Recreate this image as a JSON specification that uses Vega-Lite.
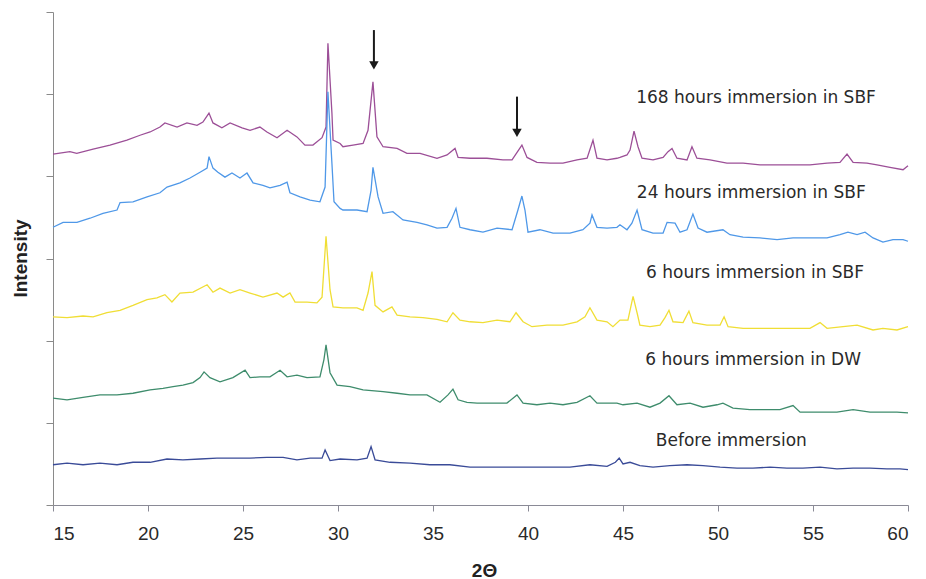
{
"$schema":"https://vega.github.io/schema/vega-lite/v6.json",
"width":855,"height":493,
"autosize":{"type":"none"},
"padding":{"left":53,"top":12,"right":18,"bottom":74},
"background":"white",
"config":{"view":{"stroke":null}},
"datasets":{
"labels":[
{"label":"168 hours immersion in SBF","x":52.0,"y":495},
{"label":"24 hours immersion in SBF","x":51.75,"y":380},
{"label":"6 hours immersion in SBF","x":51.95,"y":282},
{"label":"6 hours immersion in DW","x":51.85,"y":177},
{"label":"Before immersion","x":50.7,"y":78}
],
"arrows":[
{"x":31.89,"top":578,"bottom":537,"head":535},
{"x":39.42,"top":497,"bottom":455,"head":453}
],
"xrd":[
{"series":"168h SBF","x":15,"y":427},{"series":"168h SBF","x":15.89,"y":430},{"series":"168h SBF","x":16.25,"y":428},{"series":"168h SBF","x":17.11,"y":433},{"series":"168h SBF","x":18,"y":438},{"series":"168h SBF","x":18.89,"y":444},{"series":"168h SBF","x":19.58,"y":450},{"series":"168h SBF","x":20.11,"y":454},{"series":"168h SBF","x":20.63,"y":460},{"series":"168h SBF","x":20.89,"y":465},{"series":"168h SBF","x":21.53,"y":460},{"series":"168h SBF","x":22.05,"y":465},{"series":"168h SBF","x":22.58,"y":462},{"series":"168h SBF","x":22.89,"y":466},{"series":"168h SBF","x":23.21,"y":477},{"series":"168h SBF","x":23.42,"y":465},{"series":"168h SBF","x":23.89,"y":459},{"series":"168h SBF","x":24.32,"y":465},{"series":"168h SBF","x":24.95,"y":459},{"series":"168h SBF","x":25.37,"y":456},{"series":"168h SBF","x":25.89,"y":460},{"series":"168h SBF","x":26.26,"y":454},{"series":"168h SBF","x":26.79,"y":447},{"series":"168h SBF","x":27.32,"y":456},{"series":"168h SBF","x":27.84,"y":448},{"series":"168h SBF","x":28.26,"y":438},{"series":"168h SBF","x":28.68,"y":438},{"series":"168h SBF","x":29.16,"y":447},{"series":"168h SBF","x":29.37,"y":460},{"series":"168h SBF","x":29.47,"y":562},{"series":"168h SBF","x":29.68,"y":477},{"series":"168h SBF","x":29.74,"y":444},{"series":"168h SBF","x":30.11,"y":440},{"series":"168h SBF","x":30.26,"y":436},{"series":"168h SBF","x":30.79,"y":438},{"series":"168h SBF","x":31.32,"y":440},{"series":"168h SBF","x":31.58,"y":456},{"series":"168h SBF","x":31.84,"y":515},{"series":"168h SBF","x":32.05,"y":448},{"series":"168h SBF","x":32.37,"y":436},{"series":"168h SBF","x":33.11,"y":434},{"series":"168h SBF","x":33.63,"y":428},{"series":"168h SBF","x":34.32,"y":428},{"series":"168h SBF","x":35.21,"y":422},{"series":"168h SBF","x":35.74,"y":426},{"series":"168h SBF","x":36.16,"y":434},{"series":"168h SBF","x":36.32,"y":423},{"series":"168h SBF","x":36.95,"y":422},{"series":"168h SBF","x":37.84,"y":422},{"series":"168h SBF","x":38.68,"y":420},{"series":"168h SBF","x":39.16,"y":420},{"series":"168h SBF","x":39.68,"y":438},{"series":"168h SBF","x":39.95,"y":423},{"series":"168h SBF","x":40.47,"y":417},{"series":"168h SBF","x":41.16,"y":416},{"series":"168h SBF","x":41.84,"y":416},{"series":"168h SBF","x":42.58,"y":420},{"series":"168h SBF","x":43.11,"y":422},{"series":"168h SBF","x":43.42,"y":444},{"series":"168h SBF","x":43.63,"y":422},{"series":"168h SBF","x":44.16,"y":420},{"series":"168h SBF","x":44.68,"y":422},{"series":"168h SBF","x":44.84,"y":423},{"series":"168h SBF","x":45.21,"y":426},{"series":"168h SBF","x":45.37,"y":432},{"series":"168h SBF","x":45.58,"y":455},{"series":"168h SBF","x":45.79,"y":436},{"series":"168h SBF","x":46,"y":422},{"series":"168h SBF","x":46.58,"y":420},{"series":"168h SBF","x":47.11,"y":423},{"series":"168h SBF","x":47.37,"y":430},{"series":"168h SBF","x":47.58,"y":434},{"series":"168h SBF","x":47.84,"y":422},{"series":"168h SBF","x":48.37,"y":420},{"series":"168h SBF","x":48.63,"y":436},{"series":"168h SBF","x":48.89,"y":422},{"series":"168h SBF","x":49.58,"y":420},{"series":"168h SBF","x":50.47,"y":416},{"series":"168h SBF","x":51.32,"y":416},{"series":"168h SBF","x":52.21,"y":414},{"series":"168h SBF","x":53.11,"y":414},{"series":"168h SBF","x":53.95,"y":414},{"series":"168h SBF","x":54.84,"y":414},{"series":"168h SBF","x":55.74,"y":416},{"series":"168h SBF","x":56.42,"y":417},{"series":"168h SBF","x":56.79,"y":427},{"series":"168h SBF","x":57.11,"y":417},{"series":"168h SBF","x":57.84,"y":416},{"series":"168h SBF","x":58.37,"y":414},{"series":"168h SBF","x":59.05,"y":411},{"series":"168h SBF","x":59.74,"y":408},{"series":"168h SBF","x":60,"y":413},
{"series":"24h SBF","x":15,"y":338},{"series":"24h SBF","x":15.53,"y":344},{"series":"24h SBF","x":16.26,"y":344},{"series":"24h SBF","x":16.95,"y":349},{"series":"24h SBF","x":17.63,"y":355},{"series":"24h SBF","x":18.37,"y":359},{"series":"24h SBF","x":18.53,"y":368},{"series":"24h SBF","x":19.21,"y":369},{"series":"24h SBF","x":19.95,"y":375},{"series":"24h SBF","x":20.63,"y":380},{"series":"24h SBF","x":21,"y":387},{"series":"24h SBF","x":21.68,"y":392},{"series":"24h SBF","x":22.21,"y":398},{"series":"24h SBF","x":22.74,"y":405},{"series":"24h SBF","x":23.11,"y":410},{"series":"24h SBF","x":23.21,"y":424},{"series":"24h SBF","x":23.42,"y":410},{"series":"24h SBF","x":23.68,"y":405},{"series":"24h SBF","x":24.05,"y":399},{"series":"24h SBF","x":24.42,"y":404},{"series":"24h SBF","x":24.84,"y":398},{"series":"24h SBF","x":25.21,"y":404},{"series":"24h SBF","x":25.53,"y":392},{"series":"24h SBF","x":26.05,"y":389},{"series":"24h SBF","x":26.42,"y":386},{"series":"24h SBF","x":26.95,"y":389},{"series":"24h SBF","x":27.32,"y":393},{"series":"24h SBF","x":27.47,"y":380},{"series":"24h SBF","x":28,"y":375},{"series":"24h SBF","x":28.53,"y":371},{"series":"24h SBF","x":29.05,"y":369},{"series":"24h SBF","x":29.32,"y":387},{"series":"24h SBF","x":29.47,"y":503},{"series":"24h SBF","x":29.68,"y":416},{"series":"24h SBF","x":29.79,"y":369},{"series":"24h SBF","x":30.11,"y":361},{"series":"24h SBF","x":30.26,"y":359},{"series":"24h SBF","x":31,"y":359},{"series":"24h SBF","x":31.53,"y":357},{"series":"24h SBF","x":31.74,"y":383},{"series":"24h SBF","x":31.84,"y":411},{"series":"24h SBF","x":32.11,"y":375},{"series":"24h SBF","x":32.37,"y":355},{"series":"24h SBF","x":32.89,"y":357},{"series":"24h SBF","x":33.42,"y":347},{"series":"24h SBF","x":34.16,"y":344},{"series":"24h SBF","x":34.68,"y":341},{"series":"24h SBF","x":35.21,"y":337},{"series":"24h SBF","x":35.74,"y":338},{"series":"24h SBF","x":36,"y":349},{"series":"24h SBF","x":36.21,"y":361},{"series":"24h SBF","x":36.42,"y":338},{"series":"24h SBF","x":36.95,"y":335},{"series":"24h SBF","x":37.63,"y":332},{"series":"24h SBF","x":38.37,"y":337},{"series":"24h SBF","x":39.16,"y":335},{"series":"24h SBF","x":39.47,"y":359},{"series":"24h SBF","x":39.68,"y":376},{"series":"24h SBF","x":39.84,"y":359},{"series":"24h SBF","x":40,"y":332},{"series":"24h SBF","x":40.63,"y":335},{"series":"24h SBF","x":41.32,"y":331},{"series":"24h SBF","x":42.21,"y":331},{"series":"24h SBF","x":42.89,"y":335},{"series":"24h SBF","x":43.26,"y":343},{"series":"24h SBF","x":43.37,"y":353},{"series":"24h SBF","x":43.63,"y":338},{"series":"24h SBF","x":44.16,"y":337},{"series":"24h SBF","x":44.68,"y":338},{"series":"24h SBF","x":44.84,"y":341},{"series":"24h SBF","x":45.21,"y":335},{"series":"24h SBF","x":45.47,"y":343},{"series":"24h SBF","x":45.74,"y":359},{"series":"24h SBF","x":46,"y":335},{"series":"24h SBF","x":46.58,"y":331},{"series":"24h SBF","x":47.11,"y":331},{"series":"24h SBF","x":47.32,"y":344},{"series":"24h SBF","x":47.74,"y":343},{"series":"24h SBF","x":48,"y":332},{"series":"24h SBF","x":48.37,"y":335},{"series":"24h SBF","x":48.68,"y":354},{"series":"24h SBF","x":48.95,"y":337},{"series":"24h SBF","x":49.42,"y":332},{"series":"24h SBF","x":50.26,"y":335},{"series":"24h SBF","x":50.63,"y":329},{"series":"24h SBF","x":51.32,"y":326},{"series":"24h SBF","x":52.21,"y":325},{"series":"24h SBF","x":53.11,"y":323},{"series":"24h SBF","x":53.95,"y":325},{"series":"24h SBF","x":54.84,"y":325},{"series":"24h SBF","x":55.74,"y":325},{"series":"24h SBF","x":56.42,"y":329},{"series":"24h SBF","x":56.84,"y":332},{"series":"24h SBF","x":57.32,"y":329},{"series":"24h SBF","x":57.74,"y":332},{"series":"24h SBF","x":58.16,"y":325},{"series":"24h SBF","x":58.68,"y":320},{"series":"24h SBF","x":59.21,"y":323},{"series":"24h SBF","x":59.74,"y":323},{"series":"24h SBF","x":60,"y":321},
{"series":"6h SBF","x":15,"y":229},{"series":"6h SBF","x":15.74,"y":228},{"series":"6h SBF","x":16.58,"y":230},{"series":"6h SBF","x":17.11,"y":229},{"series":"6h SBF","x":17.84,"y":234},{"series":"6h SBF","x":18.53,"y":237},{"series":"6h SBF","x":19.21,"y":243},{"series":"6h SBF","x":19.95,"y":250},{"series":"6h SBF","x":20.47,"y":252},{"series":"6h SBF","x":20.89,"y":256},{"series":"6h SBF","x":21.26,"y":247},{"series":"6h SBF","x":21.68,"y":258},{"series":"6h SBF","x":22.37,"y":259},{"series":"6h SBF","x":23.11,"y":268},{"series":"6h SBF","x":23.42,"y":259},{"series":"6h SBF","x":23.79,"y":264},{"series":"6h SBF","x":24.32,"y":258},{"series":"6h SBF","x":24.84,"y":262},{"series":"6h SBF","x":25.37,"y":258},{"series":"6h SBF","x":26.05,"y":253},{"series":"6h SBF","x":26.79,"y":258},{"series":"6h SBF","x":27.11,"y":253},{"series":"6h SBF","x":27.47,"y":258},{"series":"6h SBF","x":27.74,"y":247},{"series":"6h SBF","x":28.37,"y":247},{"series":"6h SBF","x":28.89,"y":246},{"series":"6h SBF","x":29.16,"y":253},{"series":"6h SBF","x":29.37,"y":327},{"series":"6h SBF","x":29.58,"y":262},{"series":"6h SBF","x":29.74,"y":241},{"series":"6h SBF","x":30.26,"y":240},{"series":"6h SBF","x":31,"y":240},{"series":"6h SBF","x":31.32,"y":237},{"series":"6h SBF","x":31.58,"y":258},{"series":"6h SBF","x":31.79,"y":284},{"series":"6h SBF","x":31.95,"y":243},{"series":"6h SBF","x":32.37,"y":235},{"series":"6h SBF","x":32.84,"y":241},{"series":"6h SBF","x":33.11,"y":231},{"series":"6h SBF","x":33.79,"y":229},{"series":"6h SBF","x":34.47,"y":228},{"series":"6h SBF","x":35.21,"y":226},{"series":"6h SBF","x":35.74,"y":223},{"series":"6h SBF","x":36.05,"y":234},{"series":"6h SBF","x":36.42,"y":225},{"series":"6h SBF","x":36.95,"y":223},{"series":"6h SBF","x":37.63,"y":222},{"series":"6h SBF","x":38.37,"y":225},{"series":"6h SBF","x":39.05,"y":223},{"series":"6h SBF","x":39.37,"y":234},{"series":"6h SBF","x":39.74,"y":223},{"series":"6h SBF","x":40.21,"y":217},{"series":"6h SBF","x":41,"y":219},{"series":"6h SBF","x":41.84,"y":219},{"series":"6h SBF","x":42.58,"y":223},{"series":"6h SBF","x":43,"y":229},{"series":"6h SBF","x":43.26,"y":240},{"series":"6h SBF","x":43.63,"y":225},{"series":"6h SBF","x":44.16,"y":223},{"series":"6h SBF","x":44.47,"y":217},{"series":"6h SBF","x":44.84,"y":225},{"series":"6h SBF","x":45.26,"y":225},{"series":"6h SBF","x":45.53,"y":254},{"series":"6h SBF","x":45.74,"y":234},{"series":"6h SBF","x":45.89,"y":219},{"series":"6h SBF","x":46.42,"y":217},{"series":"6h SBF","x":46.95,"y":219},{"series":"6h SBF","x":47.21,"y":228},{"series":"6h SBF","x":47.42,"y":237},{"series":"6h SBF","x":47.63,"y":223},{"series":"6h SBF","x":48.16,"y":222},{"series":"6h SBF","x":48.47,"y":236},{"series":"6h SBF","x":48.68,"y":222},{"series":"6h SBF","x":49.42,"y":219},{"series":"6h SBF","x":50.11,"y":219},{"series":"6h SBF","x":50.32,"y":229},{"series":"6h SBF","x":50.53,"y":217},{"series":"6h SBF","x":51.32,"y":215},{"series":"6h SBF","x":52.21,"y":215},{"series":"6h SBF","x":53.11,"y":215},{"series":"6h SBF","x":53.95,"y":215},{"series":"6h SBF","x":54.84,"y":215},{"series":"6h SBF","x":55.37,"y":222},{"series":"6h SBF","x":55.74,"y":215},{"series":"6h SBF","x":56.58,"y":217},{"series":"6h SBF","x":57.32,"y":219},{"series":"6h SBF","x":58.16,"y":213},{"series":"6h SBF","x":58.68,"y":215},{"series":"6h SBF","x":59.42,"y":213},{"series":"6h SBF","x":60,"y":217},
{"series":"6h DW","x":15,"y":130},{"series":"6h DW","x":15.74,"y":128},{"series":"6h DW","x":16.58,"y":131},{"series":"6h DW","x":17.47,"y":134},{"series":"6h DW","x":18.37,"y":134},{"series":"6h DW","x":19.21,"y":136},{"series":"6h DW","x":20.11,"y":140},{"series":"6h DW","x":20.79,"y":142},{"series":"6h DW","x":21.32,"y":144},{"series":"6h DW","x":21.84,"y":146},{"series":"6h DW","x":22.37,"y":149},{"series":"6h DW","x":22.74,"y":155},{"series":"6h DW","x":22.95,"y":162},{"series":"6h DW","x":23.26,"y":155},{"series":"6h DW","x":23.79,"y":150},{"series":"6h DW","x":24.47,"y":155},{"series":"6h DW","x":25.11,"y":164},{"series":"6h DW","x":25.37,"y":155},{"series":"6h DW","x":25.89,"y":156},{"series":"6h DW","x":26.42,"y":156},{"series":"6h DW","x":26.95,"y":164},{"series":"6h DW","x":27.32,"y":156},{"series":"6h DW","x":27.84,"y":158},{"series":"6h DW","x":28.37,"y":155},{"series":"6h DW","x":29.05,"y":156},{"series":"6h DW","x":29.26,"y":177},{"series":"6h DW","x":29.37,"y":195},{"series":"6h DW","x":29.58,"y":161},{"series":"6h DW","x":29.95,"y":146},{"series":"6h DW","x":30.63,"y":144},{"series":"6h DW","x":31.32,"y":140},{"series":"6h DW","x":32.37,"y":138},{"series":"6h DW","x":33.11,"y":136},{"series":"6h DW","x":33.79,"y":134},{"series":"6h DW","x":34.68,"y":134},{"series":"6h DW","x":35.37,"y":125},{"series":"6h DW","x":35.79,"y":134},{"series":"6h DW","x":36.05,"y":141},{"series":"6h DW","x":36.32,"y":128},{"series":"6h DW","x":36.79,"y":125},{"series":"6h DW","x":37.32,"y":124},{"series":"6h DW","x":38,"y":124},{"series":"6h DW","x":38.89,"y":124},{"series":"6h DW","x":39.42,"y":134},{"series":"6h DW","x":39.74,"y":124},{"series":"6h DW","x":40.47,"y":122},{"series":"6h DW","x":41.16,"y":124},{"series":"6h DW","x":41.84,"y":122},{"series":"6h DW","x":42.58,"y":125},{"series":"6h DW","x":43.26,"y":133},{"series":"6h DW","x":43.63,"y":124},{"series":"6h DW","x":44.16,"y":124},{"series":"6h DW","x":44.68,"y":124},{"series":"6h DW","x":45,"y":122},{"series":"6h DW","x":45.74,"y":124},{"series":"6h DW","x":46.42,"y":119},{"series":"6h DW","x":46.95,"y":124},{"series":"6h DW","x":47.42,"y":133},{"series":"6h DW","x":47.84,"y":122},{"series":"6h DW","x":48.53,"y":124},{"series":"6h DW","x":49.21,"y":119},{"series":"6h DW","x":49.95,"y":122},{"series":"6h DW","x":50.26,"y":124},{"series":"6h DW","x":50.79,"y":118},{"series":"6h DW","x":51.68,"y":116},{"series":"6h DW","x":52.58,"y":116},{"series":"6h DW","x":53.26,"y":116},{"series":"6h DW","x":53.95,"y":121},{"series":"6h DW","x":54.32,"y":113},{"series":"6h DW","x":55.21,"y":113},{"series":"6h DW","x":56.26,"y":113},{"series":"6h DW","x":57.11,"y":116},{"series":"6h DW","x":58,"y":113},{"series":"6h DW","x":58.89,"y":113},{"series":"6h DW","x":59.42,"y":113},{"series":"6h DW","x":60,"y":112},
{"series":"Before","x":15,"y":49},{"series":"Before","x":15.74,"y":51},{"series":"Before","x":16.58,"y":49},{"series":"Before","x":17.47,"y":51},{"series":"Before","x":18.37,"y":49},{"series":"Before","x":19.21,"y":52},{"series":"Before","x":20.11,"y":52},{"series":"Before","x":21,"y":56},{"series":"Before","x":21.84,"y":55},{"series":"Before","x":22.74,"y":56},{"series":"Before","x":23.63,"y":57},{"series":"Before","x":24.47,"y":57},{"series":"Before","x":25.37,"y":57},{"series":"Before","x":26.26,"y":58},{"series":"Before","x":27.11,"y":58},{"series":"Before","x":27.84,"y":55},{"series":"Before","x":28.53,"y":57},{"series":"Before","x":29.16,"y":57},{"series":"Before","x":29.32,"y":67},{"series":"Before","x":29.58,"y":54},{"series":"Before","x":30.11,"y":56},{"series":"Before","x":31,"y":55},{"series":"Before","x":31.53,"y":57},{"series":"Before","x":31.74,"y":71},{"series":"Before","x":31.95,"y":55},{"series":"Before","x":32.74,"y":52},{"series":"Before","x":33.79,"y":51},{"series":"Before","x":34.84,"y":49},{"series":"Before","x":35.89,"y":49},{"series":"Before","x":36.95,"y":46},{"series":"Before","x":38,"y":46},{"series":"Before","x":39.05,"y":46},{"series":"Before","x":40.11,"y":46},{"series":"Before","x":41.16,"y":46},{"series":"Before","x":42.21,"y":46},{"series":"Before","x":43.26,"y":49},{"series":"Before","x":44.16,"y":47},{"series":"Before","x":44.6,"y":52},{"series":"Before","x":44.8,"y":57},{"series":"Before","x":45.0,"y":50},{"series":"Before","x":45.37,"y":52},{"series":"Before","x":45.89,"y":48},{"series":"Before","x":46.58,"y":46},{"series":"Before","x":47.47,"y":48},{"series":"Before","x":48.37,"y":49},{"series":"Before","x":49.21,"y":48},{"series":"Before","x":50.11,"y":46},{"series":"Before","x":51,"y":45},{"series":"Before","x":51.84,"y":45},{"series":"Before","x":52.74,"y":46},{"series":"Before","x":53.63,"y":45},{"series":"Before","x":54.47,"y":45},{"series":"Before","x":55.37,"y":46},{"series":"Before","x":56.26,"y":44},{"series":"Before","x":57.11,"y":45},{"series":"Before","x":58,"y":45},{"series":"Before","x":58.89,"y":44},{"series":"Before","x":59.58,"y":44},{"series":"Before","x":60,"y":43}
]
},
"layer":[
{"data":{"name":"xrd"},
 "mark":{"type":"line","interpolate":"linear"},
 "encoding":{
  "x":{"field":"x","type":"quantitative","scale":{"domain":[15,60],"nice":false,"zero":false},
   "axis":{"title":"2Θ","values":[15,20,25,30,35,40,45,50,55,60],"grid":false,"domainColor":"#8a8a96","tickColor":"#8a8a96","tickSize":6,"labelFont":"Liberation Sans","labelFontSize":19,"labelColor":"#2a2a2a","labelPadding":13,
    "titleFont":"Liberation Sans","titleFontSize":19,"titleFontWeight":"bold","titleColor":"#222222","titleX":431,"titleY":65,"titleBaseline":"middle","titleAlign":"center"}},
  "y":{"field":"y","type":"quantitative","scale":{"domain":[0,600],"nice":false,"zero":true},
   "axis":{"title":"Intensity","values":[0,100,200,300,400,500,600],"labels":false,"grid":false,"domainColor":"#8a8a8a","tickColor":"#8a8a8a","tickSize":7,
    "titleFont":"Liberation Sans","titleFontSize":19,"titleFontWeight":"bold","titleColor":"#222222","titleX":-33,"titleY":246,"titleAngle":-90,"titleBaseline":"middle","titleAlign":"center"}},
  "color":{"field":"series","type":"nominal","scale":{"domain":["168h SBF","24h SBF","6h SBF","6h DW","Before"],"range":["#9c4f97","#4f98e8","#f0de35","#3e8c6c","#3a4b98"]},"legend":null},
  "strokeWidth":{"field":"series","type":"nominal","scale":{"domain":["168h SBF","24h SBF","6h SBF","6h DW","Before"],"range":[1.3,1.3,2,1.3,1.4]},"legend":null}
 }},
{"data":{"name":"labels"},
 "mark":{"type":"text","font":"DejaVu Sans","fontSize":17,"color":"#2a2a2a","align":"center","baseline":"middle"},
 "encoding":{
  "x":{"field":"x","type":"quantitative"},
  "y":{"field":"y","type":"quantitative"},
  "text":{"field":"label"}
 }},
{"data":{"name":"arrows"},
 "mark":{"type":"rule","color":"#1a1a1a","strokeWidth":2},
 "encoding":{
  "x":{"field":"x","type":"quantitative"},
  "y":{"field":"top","type":"quantitative"},
  "y2":{"field":"bottom"}
 }},
{"data":{"name":"arrows"},
 "mark":{"type":"point","shape":"triangle-down","filled":true,"color":"#1a1a1a","size":90,"opacity":1},
 "encoding":{
  "x":{"field":"x","type":"quantitative"},
  "y":{"field":"head","type":"quantitative"}
 }}
]
}
